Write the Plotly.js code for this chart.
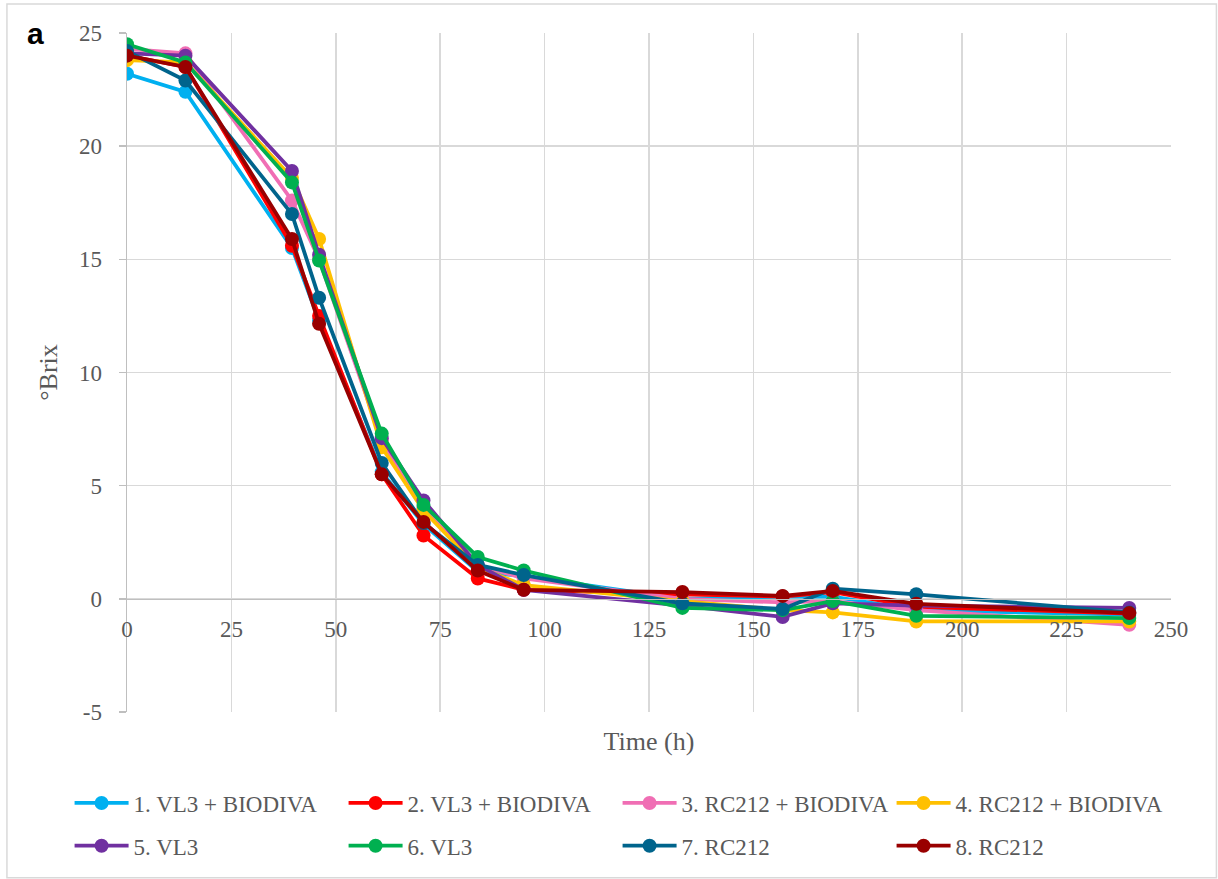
<!DOCTYPE html>
<html>
<head>
<meta charset="utf-8">
<script src="https://cdn.plot.ly/plotly-3.0.1.min.js"></script>
<style>
  html, body { margin: 0; padding: 0; background: #ffffff; }
  #chart { width: 1218px; height: 879px; }
</style>
</head>
<body>
<div id="chart"></div>
<script>
// Sampling times (h)
const timeH = [0, 14, 39.5, 46, 61, 71, 84, 95, 133, 157, 169, 189, 240];

// °Brix readings for each fermentation
const brix1 = [23.2, 22.4, 15.5, 12.3, 5.6, 3.3, 1.2, 1.0, 0.0, 0.1, 0.1, -0.5, -0.7];
const brix2 = [24.0, 23.5, 15.6, 12.5, 5.5, 2.8, 0.9, 0.4, 0.2, 0.1, 0.3, -0.35, -0.65];
const brix3 = [24.3, 24.1, 17.6, 15.0, 7.0, 4.0, 1.5, 0.9, 0.0, -0.16, -0.1, -0.5, -1.15];
const brix4 = [23.8, 23.7, 18.6, 15.9, 6.7, 3.9, 1.4, 0.6, -0.1, -0.5, -0.6, -1.0, -1.0];
const brix5 = [24.1, 24.0, 18.9, 15.2, 7.1, 4.35, 1.5, 0.4, -0.3, -0.8, -0.2, -0.3, -0.4];
const brix6 = [24.5, 23.7, 18.4, 14.95, 7.3, 4.15, 1.85, 1.25, -0.4, -0.5, -0.1, -0.75, -0.85];
const brix7 = [24.2, 22.9, 17.0, 13.3, 6.0, 3.35, 1.5, 1.05, -0.2, -0.45, 0.45, 0.2, -0.6];
const brix8 = [24.0, 23.5, 15.9, 12.15, 5.5, 3.4, 1.25, 0.4, 0.3, 0.13, 0.35, -0.22, -0.63];

const seriesNames = [
  '1. VL3 + BIODIVA', '2. VL3 + BIODIVA', '3. RC212 + BIODIVA', '4. RC212 + BIODIVA',
  '5. VL3', '6. VL3', '7. RC212', '8. RC212'
];
const seriesColors = ['#00B0F0', '#FF0000', '#F06EB4', '#FFC000', '#7030A0', '#00B050', '#00648C', '#990000'];
const seriesValues = [brix1, brix2, brix3, brix4, brix5, brix6, brix7, brix8];

const xTicks = [0, 25, 50, 75, 100, 125, 150, 175, 200, 225, 250];
const yTicks = [-5, 0, 5, 10, 15, 20, 25];

const FONT = 'Liberation Serif, Times New Roman, serif';
const TEXT = '#595959';

const traces = seriesValues.map((vals, i) => ({
  type: 'scatter',
  mode: 'lines+markers',
  name: seriesNames[i],
  x: timeH,
  y: vals,
  line: { color: seriesColors[i], width: 3.8 },
  marker: { color: seriesColors[i], size: 14 },
  legend: i < 4 ? 'legend' : 'legend2'
}));

const legendStyle = {
  orientation: 'h',
  x: -0.055,
  xanchor: 'left',
  yanchor: 'middle',
  font: { family: FONT, size: 23, color: TEXT },
  itemwidth: 54,
  entrywidth: 205,
  entrywidthmode: 'pixels',
  bgcolor: 'rgba(0,0,0,0)',
  itemclick: false
};

const layout = {
  width: 1218,
  height: 879,
  margin: { l: 127, r: 47, t: 33, b: 167 },
  paper_bgcolor: '#ffffff',
  plot_bgcolor: '#ffffff',
  showlegend: true,
  xaxis: {
    range: [0, 250],
    tickvals: xTicks,
    ticktext: xTicks.map(String),
    anchor: 'free',
    position: 1 / 6,
    automargin: false,
    showgrid: true,
    gridcolor: '#D9D9D9',
    gridwidth: 1.5,
    showline: true,
    linecolor: '#BFBFBF',
    linewidth: 1.5,
    zeroline: false,
    ticks: '',
    ticklabelstandoff: 9,
    tickfont: { family: FONT, size: 23, color: TEXT },
    title: { text: 'Time (h)', font: { family: FONT, size: 26, color: TEXT }, standoff: 91 }
  },
  yaxis: {
    range: [-5, 25],
    tickvals: yTicks,
    ticktext: yTicks.map(String),
    automargin: false,
    showgrid: true,
    gridcolor: '#D9D9D9',
    gridwidth: 1.5,
    showline: true,
    linecolor: '#BFBFBF',
    linewidth: 1.5,
    zeroline: false,
    ticks: 'outside',
    ticklen: 7,
    tickcolor: '#BFBFBF',
    tickwidth: 1.5,
    ticklabelstandoff: 12,
    tickfont: { family: FONT, size: 23, color: TEXT },
    title: { text: '°Brix', font: { family: FONT, size: 26, color: TEXT }, standoff: 14 }
  },
  legend: Object.assign({}, legendStyle, { y: -0.134 }),
  legend2: Object.assign({}, legendStyle, { y: -0.197 }),
  shapes: [
    {
      type: 'rect', xref: 'paper', yref: 'paper',
      x0: -0.115, x1: 1.0435, y0: -0.244, y1: 1.0427,
      line: { color: '#D9D9D9', width: 1.5 }, fillcolor: 'rgba(0,0,0,0)', layer: 'below'
    }
  ],
  annotations: [
    {
      text: '<b>a</b>', xref: 'paper', yref: 'paper',
      x: -0.088, y: 1.0, xanchor: 'center', yanchor: 'middle',
      showarrow: false,
      font: { family: 'Liberation Sans, Arial, sans-serif', size: 30, color: '#000000' }
    }
  ]
};

Plotly.newPlot('chart', traces, layout, { displayModeBar: false, staticPlot: true });
</script>
</body>
</html>
